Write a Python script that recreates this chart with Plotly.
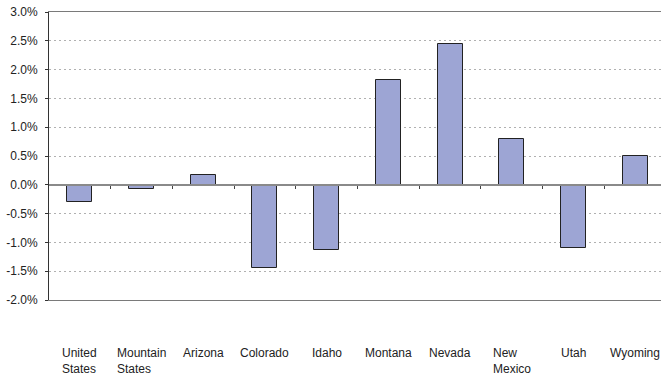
import plotly.graph_objects as go

# Percent change by area
categories = ["United States", "Mountain States", "Arizona", "Colorado", "Idaho",
              "Montana", "Nevada", "New Mexico", "Utah", "Wyoming"]
category_labels = ["United<br>States", "Mountain<br>States", "Arizona", "Colorado", "Idaho",
                   "Montana", "Nevada", "New<br>Mexico", "Utah", "Wyoming"]
pct_change = [-0.30, -0.08, 0.17, -1.45, -1.13, 1.82, 2.44, 0.79, -1.10, 0.50]

y_ticks = [3.0, 2.5, 2.0, 1.5, 1.0, 0.5, 0.0, -0.5, -1.0, -1.5, -2.0]
y_tick_text = ["3.0%", "2.5%", "2.0%", "1.5%", "1.0%", "0.5%", "0.0%",
               "-0.5%", "-1.0%", "-1.5%", "-2.0%"]

FONT = "Liberation Sans, Arial, sans-serif"
TEXT = "#222222"
X_RANGE = [-0.5, 9.42]
Y_RANGE = [-2.0, 3.0]

fig = go.Figure()

fig.add_trace(go.Bar(
    x=categories, y=pct_change, width=0.405,
    marker=dict(color="#9DA5D4", line=dict(color="#222222", width=1)),
    xaxis="x", yaxis="y", showlegend=False, hoverinfo="x+y",
))

# helper trace so the zero-line axis (with category separators) is rendered
fig.add_trace(go.Scatter(x=[0], y=[None], xaxis="x2", yaxis="y",
                         mode="markers", showlegend=False, hoverinfo="skip"))

# category labels below the plot area, lines left-aligned within each block
for cat, lab in zip(categories, category_labels):
    fig.add_annotation(
        x=cat, y=Y_RANGE[0], xref="x", yref="y", text=lab, showarrow=False,
        xanchor="center", yanchor="top", align="left", yshift=-44,
        font=dict(family=FONT, size=12, color=TEXT),
    )

zero_pos = (0 - Y_RANGE[0]) / (Y_RANGE[1] - Y_RANGE[0])

fig.update_layout(
    width=661, height=379,
    margin=dict(l=49, r=0, t=12, b=79),
    paper_bgcolor="white", plot_bgcolor="white",
    font=dict(family=FONT, size=12, color=TEXT),
    bargap=0,
    xaxis=dict(
        type="category", range=X_RANGE, showticklabels=False, ticks="",
        showgrid=False, zeroline=False, mirror=True,
        showline=True, linecolor="#7a7a7a", linewidth=1,
    ),
    xaxis2=dict(
        type="linear", overlaying="x", anchor="free", position=zero_pos,
        range=X_RANGE, showgrid=False, zeroline=False, showticklabels=False,
        showline=True, linecolor="#8a8a8a", linewidth=1.5,
        ticks="outside", ticklen=3, tickwidth=1, tickcolor="#444444",
        tickvals=[i + 0.5 for i in range(len(categories) - 1)],
    ),
    yaxis=dict(
        range=Y_RANGE, tickvals=y_ticks, ticktext=y_tick_text,
        showgrid=True, gridcolor="#b0b0b0", gridwidth=1, griddash="2px,3px",
        zeroline=False, showline=True, linecolor="#333333", linewidth=1,
        ticks="outside", ticklen=3, tickcolor="#333333", ticklabelstandoff=5,
        tickfont=dict(family=FONT, size=12, color=TEXT),
    ),
)

fig.write_html("out.html")
